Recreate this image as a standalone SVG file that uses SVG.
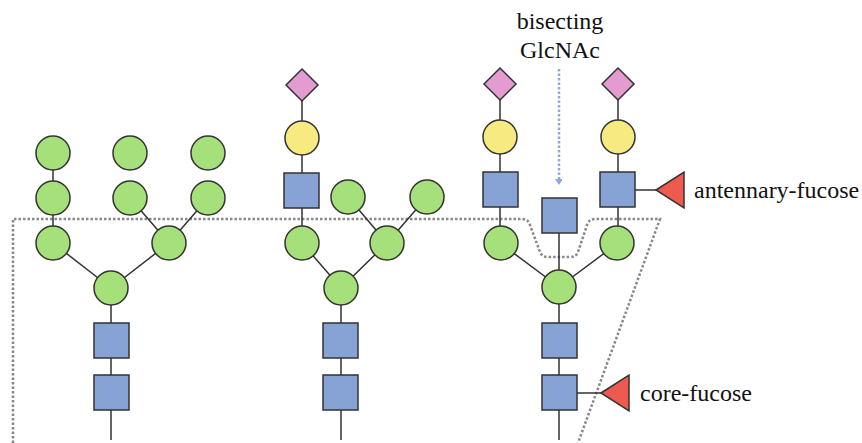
<svg xmlns="http://www.w3.org/2000/svg" width="862" height="443" viewBox="0 0 862 443">
<style>
.e{stroke:#333;stroke-width:1.5;fill:none}
.g{fill:#a6e07a;stroke:#333;stroke-width:1.5}
.y{fill:#f7ea80;stroke:#333;stroke-width:1.5}
.b{fill:#87a3d6;stroke:#333;stroke-width:1.5}
.p{fill:#e39bd0;stroke:#333;stroke-width:1.5}
.r{fill:#ef5a50;stroke:#333;stroke-width:1.5}
.t{font-family:"Liberation Serif","Times New Roman",serif;font-size:24px;fill:#111}
.dot{fill:none;stroke:#888;stroke-width:2.5;stroke-dasharray:2.5 2}
</style>
<defs>
<marker id="ah" markerWidth="8" markerHeight="8" refX="4" refY="3" orient="auto" markerUnits="userSpaceOnUse">
<path d="M0,0 L8,0 L4,6 Z" fill="#8fa8dc" transform="rotate(-90 4 3)"/>
</marker>
</defs>
<rect width="862" height="443" fill="#fff"/>
<path id="region" class="dot" d="M13,443 L13,219 L522,219 Q528,219 530,225 L540,252 Q542,257 548,257 L570,257 Q576,257 578,252 L587,225 Q589,219 595,219 L660,219 L578,443"/>
<g id="connectors">
<path class="e" d="M53,153 V243 L111,288 M130,198 L169,243 M208,198 L169,243 L111,288 M111,288 V440"/>
<path class="e" d="M302,85 V243 L341,288 M348,197 L387,243 M427,197 L387,243 L341,288 M341,288 V440"/>
<path class="e" d="M500,84 V243 L559,287 M618,84 V243 L559,287 M559,215 V440 M635,190 H656 M577,393 H601"/>
<line x1="559" y1="69" x2="559" y2="182" stroke="#8fa8dc" stroke-width="2.5" stroke-dasharray="2.5 2" marker-end="url(#ah)"/>
</g>
<g id="s1">
<circle class="g" cx="53" cy="153" r="17"/><circle class="g" cx="53" cy="198" r="17"/><circle class="g" cx="53" cy="243" r="17"/>
<circle class="g" cx="130" cy="153" r="17"/><circle class="g" cx="130" cy="198" r="17"/>
<circle class="g" cx="208" cy="153" r="17"/><circle class="g" cx="208" cy="198" r="17"/>
<circle class="g" cx="169" cy="243" r="17"/><circle class="g" cx="111" cy="288" r="17"/>
<rect class="b" x="94" y="323" width="35" height="35"/><rect class="b" x="94" y="375" width="35" height="35"/>
</g>
<g id="s2">
<polygon class="p" points="302,69 318,85 302,101 286,85"/>
<circle class="y" cx="302" cy="138" r="17"/>
<rect class="b" x="284" y="173" width="35" height="35"/>
<circle class="g" cx="302" cy="243" r="17"/>
<circle class="g" cx="348" cy="197" r="17"/><circle class="g" cx="427" cy="197" r="17"/>
<circle class="g" cx="387" cy="243" r="17"/><circle class="g" cx="341" cy="288" r="17"/>
<rect class="b" x="323" y="323" width="35" height="35"/><rect class="b" x="323" y="375" width="35" height="35"/>
</g>
<g id="s3">
<polygon class="p" points="500,68 516,84 500,100 484,84"/>
<polygon class="p" points="618,68 634,84 618,100 602,84"/>
<circle class="y" cx="500" cy="137" r="17"/><circle class="y" cx="618" cy="137" r="17"/>
<rect class="b" x="483" y="172" width="35" height="35"/><rect class="b" x="600" y="172" width="35" height="35"/>
<rect class="b" x="542" y="198" width="35" height="35"/>
<circle class="g" cx="501" cy="243" r="17"/><circle class="g" cx="617" cy="243" r="17"/>
<circle class="g" cx="559" cy="287" r="17"/>
<rect class="b" x="542" y="323" width="35" height="35"/><rect class="b" x="542" y="375" width="35" height="35"/>
<polygon class="r" points="656,190 684,172 684,208"/>
<polygon class="r" points="601,393 629,375 629,411"/>
</g>
<g id="labels">
<text class="t" x="560" y="29" text-anchor="middle">bisecting</text>
<text class="t" x="560" y="58" text-anchor="middle">GlcNAc</text>
<text class="t" x="694" y="198">antennary-fucose</text>
<text class="t" x="640" y="401">core-fucose</text>
</g>
</svg>
